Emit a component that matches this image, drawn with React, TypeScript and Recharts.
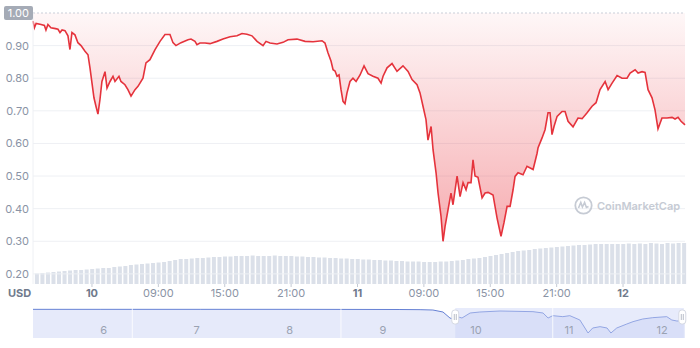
import React from 'react';
import {
  AreaChart,
  Area,
  BarChart,
  Bar,
  XAxis,
  YAxis,
  CartesianGrid,
  ReferenceLine,
  ReferenceArea,
  ReferenceDot,
} from 'recharts';

// hours relative to day 10, 00:00
const priceHours = [
  -5.33, -5.2, -5.05, -4.6, -4.3, -4.16, -3.98, -3.71, -3.3, -3.07, -2.89, -2.7, -2.44, -2.17, -1.99, -1.81,
  -1.54, -1.27, -0.99, -0.63, -0.36, -0.18, 0, 0.18, 0.36, 0.54, 0.72, 0.9, 1.18, 1.36, 1.63, 1.9, 2.08, 2.44,
  2.62, 2.98, 3.25, 3.53, 3.89, 4.16, 4.61, 4.88, 5.24, 5.7, 6.15, 6.6, 7.05, 7.32, 7.59, 8.05, 8.68, 8.95,
  9.31, 9.49, 9.76, 10.22, 10.67, 11.3, 11.84, 12.48, 13.11, 13.56, 14.01, 14.46, 14.92, 15.46, 15.73, 16.09,
  16.72, 17.27, 17.72, 18.53, 19.26, 19.98, 20.79, 21.06, 21.33, 21.61, 21.79, 21.97, 22.15, 22.33, 22.51,
  22.69, 22.87, 23.05, 23.32, 23.59, 23.87, 24.23, 24.59, 24.95, 25.4, 25.85, 26.13, 26.31, 26.67, 27.12,
  27.57, 28.11, 28.57, 28.93, 29.38, 29.65, 29.92, 30.19, 30.37, 30.65, 30.83, 31.1, 31.28, 31.55, 31.73,
  31.91, 32.18, 32.45, 32.63, 33.0, 33.27, 33.54, 33.81, 33.99, 34.26, 34.44, 34.62, 34.89, 35.26, 35.53,
  35.8, 36.25, 36.61, 36.97, 37.24, 37.52, 37.79, 38.06, 38.24, 38.51, 38.96, 39.32, 39.87, 40.23, 40.32,
  40.68, 40.95, 41.22, 41.4, 41.58, 41.76, 42.04, 42.49, 42.76, 43.03, 43.48, 43.93, 44.3, 44.75, 45.2,
  45.56, 45.92, 46.38, 46.65, 47.01, 47.46, 47.91, 48.36, 48.64, 49.09, 49.36, 49.72, 49.99, 50.26, 50.62,
  50.89, 51.16, 51.52, 51.97, 52.43, 52.7, 52.97, 53.24, 53.6,
];
const priceValues = [
  0.975, 0.955, 0.968, 0.965, 0.962, 0.948, 0.965, 0.955, 0.952, 0.95, 0.94, 0.948, 0.946, 0.93, 0.888, 0.94,
  0.933, 0.909, 0.9, 0.883, 0.872, 0.832, 0.786, 0.74, 0.714, 0.69, 0.734, 0.79, 0.82, 0.77, 0.79, 0.806, 0.79,
  0.806, 0.79, 0.78, 0.765, 0.745, 0.765, 0.775, 0.8, 0.847, 0.857, 0.888, 0.913, 0.934, 0.934, 0.909, 0.9,
  0.909, 0.918, 0.92, 0.913, 0.903, 0.908, 0.908, 0.906, 0.913, 0.92, 0.927, 0.93, 0.937, 0.935, 0.93, 0.913,
  0.9, 0.913, 0.908, 0.905, 0.91, 0.918, 0.92, 0.913, 0.912, 0.915, 0.908, 0.878, 0.852, 0.826, 0.822, 0.806,
  0.81, 0.765, 0.729, 0.722, 0.755, 0.79, 0.8, 0.79, 0.81, 0.838, 0.814, 0.806, 0.8, 0.785, 0.806, 0.832,
  0.845, 0.821, 0.838, 0.821, 0.796, 0.78, 0.755, 0.714, 0.673, 0.61, 0.652, 0.58, 0.51, 0.448, 0.376, 0.3,
  0.345, 0.396, 0.448, 0.412, 0.5, 0.437, 0.48, 0.458, 0.48, 0.48, 0.55, 0.5, 0.496, 0.433, 0.448, 0.45,
  0.442, 0.372, 0.315, 0.357, 0.407, 0.407, 0.458, 0.499, 0.51, 0.504, 0.53, 0.52, 0.57, 0.587, 0.617,
  0.642, 0.694, 0.694, 0.627, 0.652, 0.683, 0.698, 0.698, 0.668, 0.651, 0.678, 0.676, 0.694, 0.714, 0.725,
  0.765, 0.79, 0.765, 0.785, 0.808, 0.8, 0.8, 0.816, 0.826, 0.816, 0.82, 0.818, 0.765, 0.74, 0.703, 0.645,
  0.678, 0.678, 0.68, 0.675, 0.68, 0.668, 0.657,
];

// volume, one bar every 30 minutes starting at -5h
const volumeStart = -5;
const volumeValues = [
  10.5, 11, 11.5, 12, 12.5, 13, 13.5, 14, 14, 14.5,
  15, 15.5, 16, 16, 17, 17.5, 18, 19, 19.5, 20, 20.5, 21,
  21.5, 22, 23, 24, 25, 25, 25.5, 26, 26, 26.5, 27, 27,
  27.5, 27.5, 28, 28, 28, 28.5, 28, 28, 28, 28.5, 28, 28,
  28, 27.5, 27.5, 27, 27, 26.5, 26.5, 26, 26, 25.5, 25.5, 25,
  25, 24.5, 24.5, 24, 24, 23.5, 23.5, 23, 23, 22.5, 22.5, 22.5,
  22, 22, 22, 22.5, 22.5, 23, 23.5, 24, 25, 25.5, 26, 27,
  28, 29, 30, 31, 32, 33, 33.5, 34, 35, 35.5, 36, 36.5,
  37, 37.5, 38, 38.5, 39, 39, 39.5, 40, 40, 40, 40, 40,
  40, 40.5, 40, 40.5, 40, 41, 40.5, 40, 41, 40.5, 41, 41,
];

const timeTicks = [0, 6, 12, 18, 24, 30, 36, 42, 48];
const timeLabels = ['10', '09:00', '15:00', '21:00', '11', '09:00', '15:00', '21:00', '12'];
const priceTicks = [0.2, 0.3, 0.4, 0.5, 0.6, 0.7, 0.8, 0.9, 1.0];

// navigator (7 days overview)
const navHours = [
  -114.2, -96.9, -71.1, -45.4, -19.6, -14.4, -11.1, -8.5, -6.7, -5.9, -5.4, -3.6, -1.5, 1.0, 6.2, 14.7, 17.3,
  18.6, 19.8, 22.4, 24.2, 26.8, 28.1, 28.9, 30.1, 32.0, 33.8, 34.8, 36.3, 38.9, 40.5, 43.0, 45.6, 49.2, 50.5,
  51.8, 53.9,
];
const navValues = [
  1.01, 1.01, 1.01, 1.01, 1.005, 1.0, 0.99, 0.93, 0.75, 0.72, 0.81, 0.75, 0.9, 0.93, 0.96, 0.94, 0.9, 0.75,
  0.82, 0.79, 0.82, 0.69, 0.45, 0.3, 0.45, 0.49, 0.45, 0.3, 0.45, 0.57, 0.64, 0.72, 0.76, 0.79, 0.69, 0.66,
  0.66,
];
const navDayTicks = [-96, -72, -48, -24, 0, 24, 48];
const navDayLabels = ['6', '7', '8', '9', '10', '11', '12'];
const navSeparators = [-88.6, -34.8, 19.8];

const priceData = priceHours.map((h, i) => ({ h, price: priceValues[i] }));
const volumeData = volumeValues.map((vol, i) => ({ h: volumeStart + i * 0.5, vol }));
const navData = navHours.map((h, i) => ({ h, v: navValues[i] }));

const hourDomain = [priceHours[0], priceHours[priceHours.length - 1]];

const PriceTick = (props: any) => {
  const { y, payload } = props;
  const v = payload.value;
  if (v === 1) {
    return (
      <g>
        <rect x={4} y={y - 7} width={29} height={14} rx={2} fill="#a5abb6" />
        <text x={29} y={y + 4} textAnchor="end" fill="#ffffff" fontSize={11}>
          1.00
        </text>
      </g>
    );
  }
  return (
    <text x={29} y={y + 4} textAnchor="end" fill="#8a93a5" fontSize={11}>
      {v.toFixed(2)}
    </text>
  );
};

const TimeTick = (props: any) => {
  const { x, payload } = props;
  const label = timeLabels[timeTicks.indexOf(payload.value)];
  const isDay = label.indexOf(':') < 0;
  return (
    <text
      x={x}
      y={297}
      textAnchor="middle"
      fontSize={11}
      fontWeight={isDay ? 700 : 400}
      fill={isDay ? '#707a8c' : '#8a93a5'}
    >
      {label}
    </text>
  );
};

const NavTick = (props: any) => {
  const { x, payload } = props;
  const label = navDayLabels[navDayTicks.indexOf(payload.value)];
  return (
    <text x={x} y={34} textAnchor="middle" fontSize={11} fill="#9aa2b2">
      {label}
    </text>
  );
};

const Handle = (props: any) => {
  const { cx, cy } = props;
  return (
    <g>
      <rect x={cx - 3.5} y={cy - 7} width={7} height={14} rx={3} fill="#ffffff" stroke="#d5d9e3" />
      <line x1={cx - 1} y1={cy - 3} x2={cx - 1} y2={cy + 3} stroke="#b8bdc8" />
      <line x1={cx + 1} y1={cy - 3} x2={cx + 1} y2={cy + 3} stroke="#b8bdc8" />
    </g>
  );
};

const App = () => {
  return (
    <div
      style={{
        position: 'absolute',
        left: 0,
        top: 0,
        width: 700,
        height: 348,
        background: '#ffffff',
        fontFamily: 'Inter, sans-serif',
      }}
    >
      <div style={{ position: 'absolute', left: 0, top: 0 }}>
        <BarChart width={700} height={304} data={volumeData} margin={{ top: 13, right: 15, bottom: 20, left: 33 }}>
          <XAxis type="number" dataKey="h" domain={hourDomain} hide />
          <YAxis domain={[0, 271]} hide />
          <Bar dataKey="vol" fill="#dbe0e9" barSize={4} isAnimationActive={false} />
        </BarChart>
      </div>

      <div style={{ position: 'absolute', left: 0, top: 0 }}>
        <AreaChart width={700} height={304} data={priceData} margin={{ top: 13, right: 15, bottom: 0, left: 0 }}>
          <defs>
            <linearGradient id="redFill" x1="0" y1="0" x2="0" y2="1">
              <stop offset="0%" stopColor="#ea3943" stopOpacity={0.04} />
              <stop offset="100%" stopColor="#ea3943" stopOpacity={0.42} />
            </linearGradient>
          </defs>
          <CartesianGrid vertical={false} stroke="#eef0f4" horizontalValues={[0.2, 0.3, 0.4, 0.5, 0.6, 0.7, 0.8, 0.9]} />
          <ReferenceLine y={1} stroke="#c9ced8" strokeDasharray="2 2" />
          <XAxis
            type="number"
            dataKey="h"
            domain={hourDomain}
            ticks={timeTicks}
            tick={<TimeTick />}
            axisLine={false}
            tickLine={{ stroke: '#c5cad4' }}
            tickSize={3}
            height={20}
            interval={0}
          />
          <YAxis
            domain={[0.169, 1.0]}
            ticks={priceTicks}
            tick={<PriceTick />}
            width={33}
            axisLine={{ stroke: '#eef0f4' }}
            tickLine={false}
            interval={0}
            allowDataOverflow
          />
          <Area
            type="linear"
            dataKey="price"
            baseValue={1}
            stroke="#e5333c"
            strokeWidth={1.6}
            fill="url(#redFill)"
            fillOpacity={1}
            dot={false}
            activeDot={false}
            isAnimationActive={false}
          />
        </AreaChart>
      </div>

      <div
        style={{
          position: 'absolute',
          left: 8,
          top: 286,
          fontSize: 11,
          fontWeight: 700,
          color: '#707a8c',
        }}
      >
        USD
      </div>

      <div
        style={{
          position: 'absolute',
          left: 574,
          top: 196,
          display: 'flex',
          alignItems: 'center',
          gap: 4,
          color: '#c6cbd4',
          fontSize: 11,
          fontWeight: 600,
        }}
      >
        <svg width={19} height={19} viewBox="0 0 19 19">
          <circle cx={9.5} cy={9.5} r={8.2} fill="none" stroke="#c6cbd4" strokeWidth={1.8} />
          <path d="M4.5 12 L6.8 6.5 L8.4 11 L10.6 6.5 L12.4 11.5 L14.5 10.5" fill="none" stroke="#c6cbd4" strokeWidth={1.6} />
        </svg>
        <span>CoinMarketCap</span>
      </div>

      <div style={{ position: 'absolute', left: 0, top: 300 }}>
        <AreaChart width={700} height={48} data={navData} margin={{ top: 8, right: 15, bottom: 9, left: 33 }}>
          <XAxis
            type="number"
            dataKey="h"
            domain={[navHours[0], navHours[navHours.length - 1]]}
            ticks={navDayTicks}
            tick={<NavTick />}
            axisLine={false}
            tickLine={false}
            height={1}
            interval={0}
          />
          <YAxis domain={[0.15, 1.05]} hide />
          <Area
            type="linear"
            dataKey="v"
            stroke="#6681d4"
            strokeWidth={1}
            fill="#e6eafa"
            fillOpacity={1}
            dot={false}
            activeDot={false}
            isAnimationActive={false}
          />
          {navSeparators.map((s) => (
            <ReferenceLine key={s} x={s} stroke="#ffffff" strokeOpacity={0.8} />
          ))}
          <ReferenceArea x1={hourDomain[0]} x2={hourDomain[1]} y1={0.15} y2={1.05} fill="#c9d3f6" fillOpacity={0.45} stroke="none" />
          <ReferenceDot x={hourDomain[0]} y={0.78} r={0} shape={<Handle />} />
          <ReferenceDot x={hourDomain[1] - 0.4} y={0.78} r={0} shape={<Handle />} />
        </AreaChart>
      </div>
    </div>
  );
};

export default App;
